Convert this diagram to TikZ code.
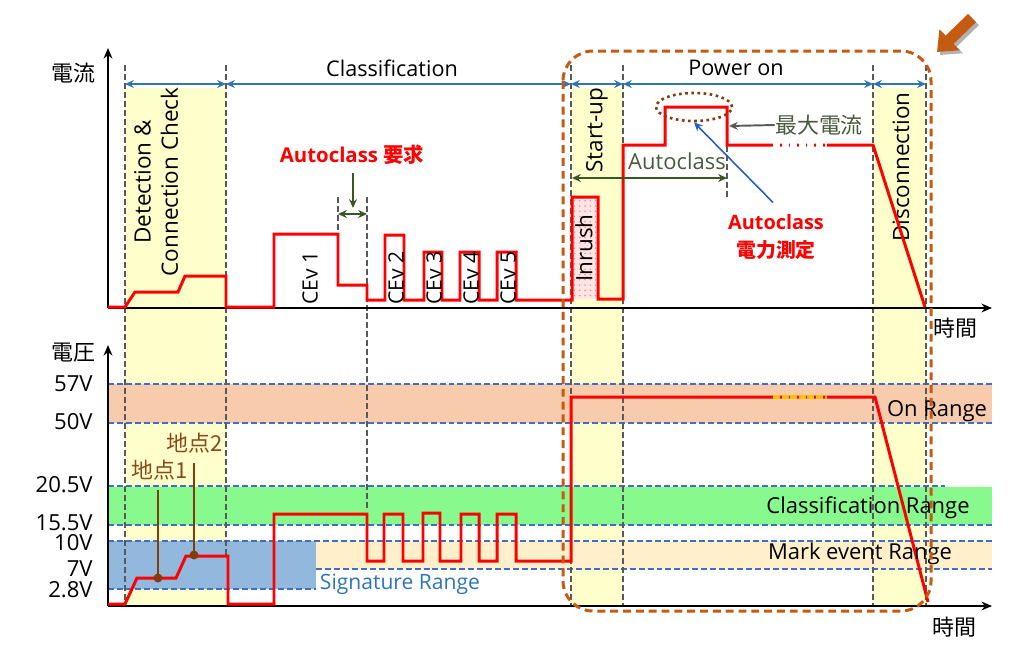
\documentclass[tikz,border=0pt]{standalone}
\usepackage{fontspec}
\setmainfont{Open Sans}
\newfontfamily\jp{Noto Sans CJK JP}
\usetikzlibrary{arrows.meta,patterns,shapes.geometric}

\definecolor{ptred}{HTML}{FF0000}
\definecolor{phaseyel}{HTML}{FFFFCC}
\definecolor{onpink}{HTML}{F8CBAD}
\definecolor{clsgreen}{HTML}{88F98C}
\definecolor{markbeige}{HTML}{FFF0CB}
\definecolor{sigblue}{HTML}{93B8DE}
\definecolor{rangeblue}{HTML}{3F6FC2}
\definecolor{phblue}{HTML}{2E75B6}
\definecolor{guidegray}{HTML}{595959}
\definecolor{acgreen}{HTML}{385723}
\definecolor{maxgray}{HTML}{4A5A3C}
\definecolor{ptbrown}{HTML}{843C0C}
\definecolor{ptbrowntxt}{HTML}{8B4A1C}
\definecolor{boxorange}{HTML}{C55A11}
\definecolor{markyel}{HTML}{FFC000}

\tikzset{
  redline/.style={draw=ptred,line width=1.7pt},
  guide/.style={draw=guidegray,line width=1.4pt,dash pattern=on 3.4pt off 1.7pt},
  rangeline/.style={draw=rangeblue,line width=1.1pt,dash pattern=on 3.4pt off 1.7pt},
  phase/.style={draw=phblue,line width=1pt,{Stealth[length=5pt,width=4.5pt]}-{Stealth[length=5pt,width=4.5pt]}},
  axis/.style={draw=black,line width=1.2pt,-{Stealth[length=6pt,width=5pt]}},
  lbl/.style={font=\fontsize{12.3}{15.5}\selectfont,inner sep=0pt},
  jplbl/.style={font=\fontsize{12.5}{15}\selectfont\jp,inner sep=0pt},
  vlbl/.style={lbl,rotate=90,font=\fontsize{12.8}{15.5}\selectfont},
  cevlbl/.style={lbl,rotate=90,font=\fontsize{12}{14}\selectfont},
  vlab/.style={lbl,anchor=east,font=\fontsize{12.6}{14}\selectfont},
  biglbl/.style={font=\fontsize{12.5}{15}\selectfont,inner sep=0pt},
  redlbl/.style={font=\fontsize{11.6}{15.5}\selectfont\bfseries,text=ptred,inner sep=0pt,align=center}
}

\begin{document}
\begin{tikzpicture}[x=0.02cm,y=-0.02cm]
\useasboundingbox (0,0) rectangle (1024,654);

\fill[phaseyel] (125,88) rectangle (226,606);
\fill[phaseyel] (571,88) rectangle (623,606);
\fill[phaseyel] (873,88) rectangle (926,606);

\fill[onpink] (108,384) rectangle (992,423);
\fill[clsgreen] (108,487) rectangle (992,525);
\fill[markbeige] (316,541) rectangle (992,569);
\fill[sigblue] (108,541) rectangle (316,589);
\draw[rangeline] (108,384) -- (992,384);
\draw[rangeline] (108,423) -- (992,423);
\draw[rangeline] (108,486) -- (945,486);
\draw[rangeline] (108,525) -- (992,525);
\draw[rangeline] (108,541) -- (992,541);
\draw[rangeline] (316,569) -- (992,569);
\draw[rangeline] (108,589) -- (316,589);

\fill[red!10] (572,197) rectangle (598,299);
\fill[pattern=dots,pattern color=red!45] (572,197) rectangle (598,299);

\draw[guide] (125,65) -- (125,606);
\draw[guide] (226,65) -- (226,556);
\draw[guide] (338,197) -- (338,234);
\draw[guide] (367,197) -- (367,508);
\draw[guide] (571,65) -- (571,606);
\draw[guide] (623,65) -- (623,606);
\draw[guide] (727,110) -- (727,197);
\draw[guide] (873,65) -- (873,606);
\draw[guide] (926,65) -- (926,606);

\coordinate (o1) at (108,308);
\coordinate (o2) at (108,606);
\draw[axis] (o1) -- (108,48);
\draw[axis] (o1) -- (992,308);
\draw[axis] (o2) -- (108,345);
\draw[axis] (o2) -- (992,606);
\node[jplbl] (ylbl1) at (73,73) {電流};
\node[jplbl] (ylbl2) at (73,353) {電圧};
\node[jplbl] (xlbl1) at (955,328) {時間};
\node[jplbl] (xlbl2) at (954,627) {時間};

\draw[phase] (125,84) -- (226,84);
\draw[phase] (226,84) -- (571,84);
\draw[phase] (571,84) -- (623,84);
\draw[phase] (623,84) -- (873,84);
\draw[phase] (873,84) -- (926,84);
\node[lbl] (ph-class) at (392,68) {Classification};
\node[lbl] (ph-power) at (736,68) {Power on};
\node[vlbl,align=center] (ph-det) at (156,182) {Detection \&\\Connection Check};
\node[vlbl] (ph-start) at (597,130) {Start-up};
\node[vlbl] (ph-inrush) at (584,248) {Inrush};
\node[vlbl] (ph-disc) at (901,167) {Disconnection};

\draw[redline] (108,307) -- (125,307) -- (135,292) -- (178,292) -- (185,276) -- (226,276) -- (226,307) -- (274,307) -- (274,234) -- (338,234) -- (338,285) -- (367,285) -- (367,300) -- (385,300) -- (385,235) -- (404,235) -- (404,300) -- (424,300) -- (424,252) -- (442,252) -- (442,300) -- (460,300) -- (460,252) -- (479,252) -- (479,300) -- (497,300) -- (497,252) -- (516,252) -- (516,300) -- (572,300) -- (572,197) -- (598,197) -- (598,299) -- (623,299) -- (623,145) -- (665,145) -- (665,107) -- (727,107) -- (727,145) -- (873,145) -- (925,307);
\draw[white,line width=1.8pt,dash pattern=on 4pt off 0.9pt] (773,145) -- (827,145);

\node[cevlbl] (cev1) at (310,278) {CEv 1};
\node[cevlbl] (cev2) at (396,278) {CEv 2};
\node[cevlbl] (cev3) at (434,278) {CEv 3};
\node[cevlbl] (cev4) at (471,278) {CEv 4};
\node[cevlbl] (cev5) at (508,278) {CEv 5};

\node[redlbl] (acreq) at (352,155) {Autoclass {\jp 要求}};
\coordinate (acreq-tip) at (353,208);
\draw[acgreen,line width=1.1pt,-{Stealth[length=5pt,width=4.5pt]}] (353,173) -- (acreq-tip);
\draw[acgreen,line width=1.1pt,{Stealth[length=5pt,width=4.5pt]}-{Stealth[length=5pt,width=4.5pt]}] (338,214) -- (367,214);

\node[biglbl,text=maxgray] (acwin) at (677,161) {Autoclass};
\draw[acgreen,line width=1.1pt,{Stealth[length=5pt,width=4.5pt]}-{Stealth[length=5pt,width=4.5pt]}] (572,178) -- (727,178);

\node[draw=ptbrown,line width=1.5pt,dotted,ellipse,minimum width=76*0.02cm,minimum height=28*0.02cm,inner sep=0pt] (peak) at (694,107) {};
\node[jplbl,font=\fontsize{12.5}{14}\selectfont\jp,text=maxgray] (maxlbl) at (819,125) {最大電流};
\coordinate (peak-r) at (729,126);
\draw[guidegray,line width=1.1pt,-{Stealth[length=5pt,width=4.5pt]}] (maxlbl.west) -- (peak-r);
\node[redlbl,font=\fontsize{11.3}{15.5}\selectfont\bfseries] (acpow) at (776,237) {Autoclass\\{\jp 電力測定}};
\draw[phblue!80!blue,line width=0.9pt,-{Stealth[length=5pt,width=4.5pt]}] ([shift={(-3,-12)}]acpow.north) -- (peak.south);

\draw[redline] (108,604) -- (125,604) -- (137,578) -- (176,578) -- (186,556) -- (228,556) -- (228,604) -- (274,604) -- (274,514) -- (367,514) -- (367,561) -- (384,561) -- (384,514) -- (403,514) -- (403,561) -- (423,561) -- (423,513) -- (440,513) -- (440,561) -- (461,561) -- (461,514) -- (479,514) -- (479,561) -- (497,561) -- (497,514) -- (516,514) -- (516,561) -- (571,561) -- (571,397) -- (875,397) -- (928,602);
\draw[markyel,line width=1.8pt,dash pattern=on 4pt off 0.9pt] (773,397) -- (827,397);

\node[vlab] (v57) at (93,384) {57V};
\node[vlab] (v50) at (93,422) {50V};
\node[vlab] (v205) at (93,485) {20.5V};
\node[vlab] (v155) at (93,523) {15.5V};
\node[vlab] (v10) at (93,543) {10V};
\node[vlab] (v7) at (93,569) {7V};
\node[vlab] (v28) at (93,590) {2.8V};

\node[biglbl] (r-on) at (937,411) {On Range};
\node[biglbl] (r-cls) at (868,508) {Classification Range};
\node[biglbl] (r-mark) at (860,554) {Mark event Range};
\node[lbl,font=\fontsize{12}{14}\selectfont,text=phblue] (r-sig) at (400,584) {Signature Range};

\coordinate (d1) at (158,578);
\coordinate (d1t) at (158,490);
\coordinate (d2) at (194,555);
\coordinate (d2t) at (194,463);
\draw[ptbrown,line width=1.4pt] (d1) -- (d1t);
\draw[ptbrown,line width=1.4pt] (d2) -- (d2t);
\fill[ptbrown] (d1) circle (4.5);
\fill[ptbrown] (d2) circle (4.5);
\node[jplbl,text=ptbrowntxt] (pt1) at (160,470) {地点1};
\node[jplbl,text=ptbrowntxt] (pt2) at (195,443) {地点2};

\draw[boxorange,line width=1.7pt,dash pattern=on 4.5pt off 2.8pt,rounded corners=0.6cm] (563,51) rectangle (931,611);

\draw[black!30,line width=6.5pt,-{Triangle[length=10pt,width=16pt]}] (975,21) -- (940,55);
\draw[boxorange,line width=6.5pt,-{Triangle[length=10pt,width=16pt]}] (972,18) -- (937,52);
\end{tikzpicture}
\end{document}
